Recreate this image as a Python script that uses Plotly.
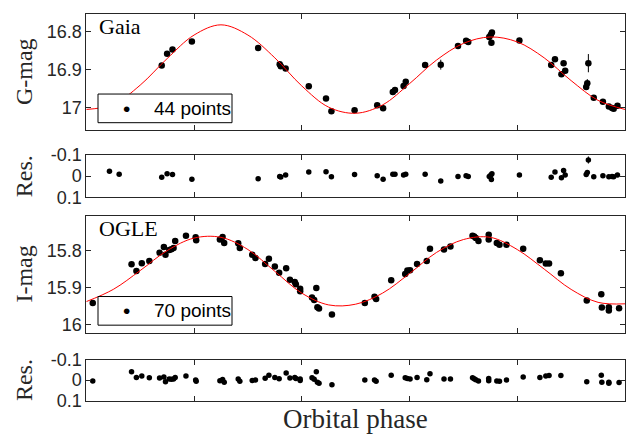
import plotly.graph_objects as go

# ---------------- data ----------------
gaia_phase = [0.043, 0.061, 0.140, 0.150, 0.160, 0.196, 0.319, 0.359, 0.361, 0.370,
              0.413, 0.445, 0.455, 0.498, 0.540, 0.551, 0.569, 0.573, 0.589, 0.593,
              0.629, 0.658, 0.690, 0.705, 0.709, 0.748, 0.751, 0.752, 0.753, 0.804,
              0.863, 0.870, 0.882, 0.886, 0.889, 0.928, 0.930, 0.932, 0.942, 0.959,
              0.970, 0.976, 0.979, 0.986]
gaia_mag = [16.976, 16.982, 16.890, 16.859, 16.848, 16.827, 16.844, 16.887, 16.892, 16.898,
            16.945, 16.977, 17.011, 17.008, 16.995, 17.003, 16.960, 16.955, 16.944, 16.933,
            16.889, 16.888, 16.839, 16.825, 16.828, 16.815, 16.809, 16.830, 16.803, 16.824,
            16.889, 16.874, 16.913, 16.884, 16.904, 16.947, 16.937, 16.884, 16.975, 16.986,
            16.998, 17.002, 17.004, 16.996]
gaia_err = [0.004, 0.004, 0.004, 0.004, 0.004, 0.004, 0.004, 0.004, 0.004, 0.004,
            0.004, 0.004, 0.004, 0.004, 0.004, 0.004, 0.004, 0.004, 0.004, 0.004,
            0.004, 0.013, 0.004, 0.004, 0.004, 0.004, 0.004, 0.004, 0.004, 0.004,
            0.004, 0.004, 0.004, 0.004, 0.004, 0.004, 0.011, 0.024, 0.004, 0.004,
            0.004, 0.004, 0.004, 0.004]
gaia_res = [-0.024, -0.009, 0.005, -0.011, -0.008, 0.015, 0.012, 0.002, 0.004, -0.006,
            -0.020, -0.021, 0.003, -0.008, -0.002, 0.015, -0.009, -0.009, -0.006, -0.009,
            -0.009, 0.023, 0.002, -0.002, 0.002, 0.002, -0.006, 0.016, -0.011, -0.006,
            0.005, -0.020, 0.008, -0.027, -0.006, -0.008, -0.017, -0.077, 0.003, -0.002,
            0.003, 0.001, 0.003, -0.006]
gaia_res_err = [0.003] * 21 + [0.008] + [0.003] * 14 + [0.006, 0.017] + [0.003] * 6

model_phase = [0.00, 0.05, 0.10, 0.15, 0.20, 0.25, 0.30, 0.35, 0.40, 0.45, 0.50,
               0.55, 0.60, 0.65, 0.70, 0.75, 0.80, 0.85, 0.90, 0.95, 1.00]
gaia_model = [17.006, 16.993, 16.942, 16.872, 16.810, 16.783, 16.810, 16.870, 16.944, 17.000, 17.016,
              16.994, 16.938, 16.876, 16.832, 16.815, 16.828, 16.870, 16.930, 16.982, 17.006]
ogle_model = [15.938, 15.905, 15.854, 15.800, 15.766, 15.764, 15.797, 15.856, 15.915, 15.947, 15.945,
              15.915, 15.862, 15.805, 15.770, 15.764, 15.797, 15.850, 15.905, 15.940, 15.944]

ogle_phase = [0.012, 0.084, 0.093, 0.103, 0.117, 0.136, 0.144, 0.147, 0.154, 0.158,
              0.162, 0.165, 0.185, 0.203, 0.204, 0.248, 0.253, 0.256, 0.282, 0.285,
              0.308, 0.314, 0.332, 0.339, 0.350, 0.358, 0.371, 0.378, 0.387, 0.389,
              0.397, 0.397, 0.419, 0.423, 0.427, 0.429, 0.432, 0.456, 0.517, 0.535,
              0.538, 0.566, 0.592, 0.596, 0.601, 0.614, 0.632, 0.638, 0.664, 0.676,
              0.717, 0.720, 0.723, 0.728, 0.747, 0.747, 0.762, 0.767, 0.780, 0.811,
              0.842, 0.853, 0.859, 0.881, 0.929, 0.956, 0.957, 0.970, 0.970, 0.989]
ogle_mag = [15.942, 15.837, 15.855, 15.834, 15.828, 15.806, 15.790, 15.811, 15.798, 15.796,
            15.793, 15.774, 15.760, 15.764, 15.772, 15.770, 15.763, 15.779, 15.780, 15.793,
            15.811, 15.820, 15.836, 15.822, 15.843, 15.860, 15.848, 15.879, 15.885, 15.891,
            15.903, 15.910, 15.927, 15.934, 15.901, 15.953, 15.957, 15.973, 15.942, 15.925,
            15.931, 15.880, 15.863, 15.854, 15.853, 15.836, 15.828, 15.795, 15.797, 15.789,
            15.760, 15.762, 15.766, 15.774, 15.757, 15.770, 15.779, 15.784, 15.784, 15.795,
            15.826, 15.835, 15.835, 15.861, 15.935, 15.918, 15.954, 15.953, 15.962, 15.956]
ogle_res = [0.005, -0.040, -0.012, -0.020, -0.011, -0.010, -0.015, 0.008, -0.005, -0.004,
            -0.005, -0.012, -0.020, 0.000, 0.006, 0.003, -0.003, 0.010, -0.005, 0.006,
            0.002, 0.000, -0.009, -0.023, -0.012, -0.006, -0.035, -0.010, -0.012, -0.008,
            -0.005, 0.002, -0.011, -0.004, -0.040, 0.010, 0.015, 0.023, 0.000, 0.000,
            0.006, -0.023, -0.011, -0.008, -0.005, -0.012, -0.002, -0.031, -0.005, -0.005,
            -0.011, -0.006, -0.002, 0.005, -0.008, 0.003, 0.005, 0.006, 0.000, -0.015,
            -0.012, -0.020, -0.022, -0.022, 0.008, -0.023, 0.011, 0.011, 0.015, 0.012]

x_ticks = [0.2, 0.4, 0.6, 0.8]
gaia_ticks = [16.8, 16.9, 17.0]
gaia_ticktext = ["16.8", "16.9", "17"]
ogle_ticks = [15.8, 15.9, 16.0]
ogle_ticktext = ["15.8", "15.9", "16"]
res_ticks = [-0.1, 0.0, 0.1]
res_ticktext = ["-0.1", "0", "0.1"]
legend_labels = ["44 points", "70 points"]

# ---------------- layout geometry (pixels) ----------------
W, H = 641, 445
X0, X1 = 86.3, 625.0
P_G = (4, 126)
P_GR = (152, 196)
P_O = (216, 338)
P_OR = (366, 409)
LEG_G = (98, 232, 88, 118)
LEG_O = (98, 232, 300, 330)


def fx(px):
    return px / W


def fy(py):
    return 1 - py / H


AX = "#262626"
fig = go.Figure()

mk_main = dict(color="black", size=6.5)
mk_res = dict(color="black", size=5.5)
eb = dict(type="data", color="black", thickness=1, width=0)

fig.add_trace(go.Scatter(x=gaia_phase, y=gaia_mag, mode="markers", marker=mk_main,
                         error_y=dict(eb, array=gaia_err), name=legend_labels[0],
                         showlegend=False, xaxis="x", yaxis="y"))
fig.add_trace(go.Scatter(x=model_phase, y=gaia_model, mode="lines",
                         line=dict(color="red", width=1, shape="spline"),
                         showlegend=False, xaxis="x", yaxis="y"))
fig.add_trace(go.Scatter(x=gaia_phase, y=gaia_res, mode="markers", marker=mk_res,
                         error_y=dict(eb, array=gaia_res_err), showlegend=False,
                         xaxis="x2", yaxis="y2"))
fig.add_trace(go.Scatter(x=ogle_phase, y=ogle_mag, mode="markers", marker=mk_main,
                         name=legend_labels[1], showlegend=False, xaxis="x3", yaxis="y3"))
fig.add_trace(go.Scatter(x=model_phase, y=ogle_model, mode="lines",
                         line=dict(color="red", width=1, shape="spline"),
                         showlegend=False, xaxis="x3", yaxis="y3"))
fig.add_trace(go.Scatter(x=ogle_phase, y=ogle_res, mode="markers", marker=mk_res,
                         showlegend=False, xaxis="x4", yaxis="y4"))

common = dict(showline=True, linecolor=AX, linewidth=1, mirror="ticks", ticks="inside",
              ticklen=5, tickcolor=AX, tickwidth=1, showgrid=False, zeroline=False,
              tickfont=dict(family="Liberation Sans, Arial", size=18, color=AX))

xdom = [X0 / W, X1 / W]
for name, yname in [("xaxis", "y"), ("xaxis2", "y2"), ("xaxis3", "y3"), ("xaxis4", "y4")]:
    fig.update_layout({name: dict(common, domain=xdom, range=[0, 1], tickvals=x_ticks,
                                  showticklabels=False, anchor=yname)})

fig.update_layout(
    yaxis=dict(common, domain=[fy(P_G[1]), fy(P_G[0])], range=[17.061, 16.754],
               tickvals=gaia_ticks, ticktext=gaia_ticktext, anchor="x"),
    yaxis2=dict(common, domain=[fy(P_GR[1]), fy(P_GR[0])], range=[0.1, -0.1],
                tickvals=res_ticks, ticktext=res_ticktext, anchor="x2"),
    yaxis3=dict(common, domain=[fy(P_O[1]), fy(P_O[0])], range=[16.0225, 15.707],
                tickvals=ogle_ticks, ticktext=ogle_ticktext, anchor="x3"),
    yaxis4=dict(common, domain=[fy(P_OR[1]), fy(P_OR[0])], range=[0.1, -0.1],
                tickvals=res_ticks, ticktext=res_ticktext, anchor="x4"),
)

serif = "Liberation Serif, Times New Roman, serif"
sans = "Liberation Sans, Arial, sans-serif"
ann = []
shapes = []
ann.append(dict(text="Gaia", x=fx(97), y=fy(17), xref="paper", yref="paper",
                xanchor="left", yanchor="middle", showarrow=False,
                font=dict(family=serif, size=22, color="black")))
ann.append(dict(text="OGLE", x=fx(97), y=fy(229), xref="paper", yref="paper",
                xanchor="left", yanchor="middle", showarrow=False,
                font=dict(family=serif, size=22, color="black")))
for txt, pan in [("G-mag", P_G), ("Res.", P_GR), ("I-mag", P_O), ("Res.", P_OR)]:
    ann.append(dict(text=txt, x=fx(24), y=fy((pan[0] + pan[1]) / 2), xref="paper", yref="paper",
                    xanchor="center", yanchor="middle", textangle=-90, showarrow=False,
                    font=dict(family=serif, size=24, color=AX)))
ann.append(dict(text="Orbital phase", x=fx((X0 + X1) / 2), y=fy(428), xref="paper", yref="paper",
                xanchor="center", yanchor="middle", showarrow=False,
                font=dict(family=serif, size=27, color=AX)))

# legend boxes (marker sample + label)
for (lx0, lx1, ly0, ly1), label in [(LEG_G, legend_labels[0]), (LEG_O, legend_labels[1])]:
    shapes.append(dict(type="rect", xref="paper", yref="paper", x0=fx(lx0), x1=fx(lx1),
                       y0=fy(ly1), y1=fy(ly0), line=dict(color="black", width=1),
                       fillcolor="white", layer="above"))
    cy = (ly0 + ly1) / 2
    ann.append(dict(text="\u2022", x=fx(lx0 + 28), y=fy(cy), xref="paper", yref="paper",
                    xanchor="center", yanchor="middle", showarrow=False,
                    font=dict(family=sans, size=21, color="black")))
    ann.append(dict(text=label, x=fx(lx0 + 54), y=fy(cy), xref="paper", yref="paper",
                    xanchor="left", yanchor="middle", showarrow=False,
                    font=dict(family=sans, size=19, color="black")))

fig.update_layout(annotations=ann, shapes=shapes, width=W, height=H,
                  margin=dict(l=0, r=0, t=0, b=0), showlegend=False,
                  paper_bgcolor="white", plot_bgcolor="white")

fig.write_html("out.html", config={"displayModeBar": False},
               post_script="document.body.style.margin='0';document.body.style.overflow='hidden';")
